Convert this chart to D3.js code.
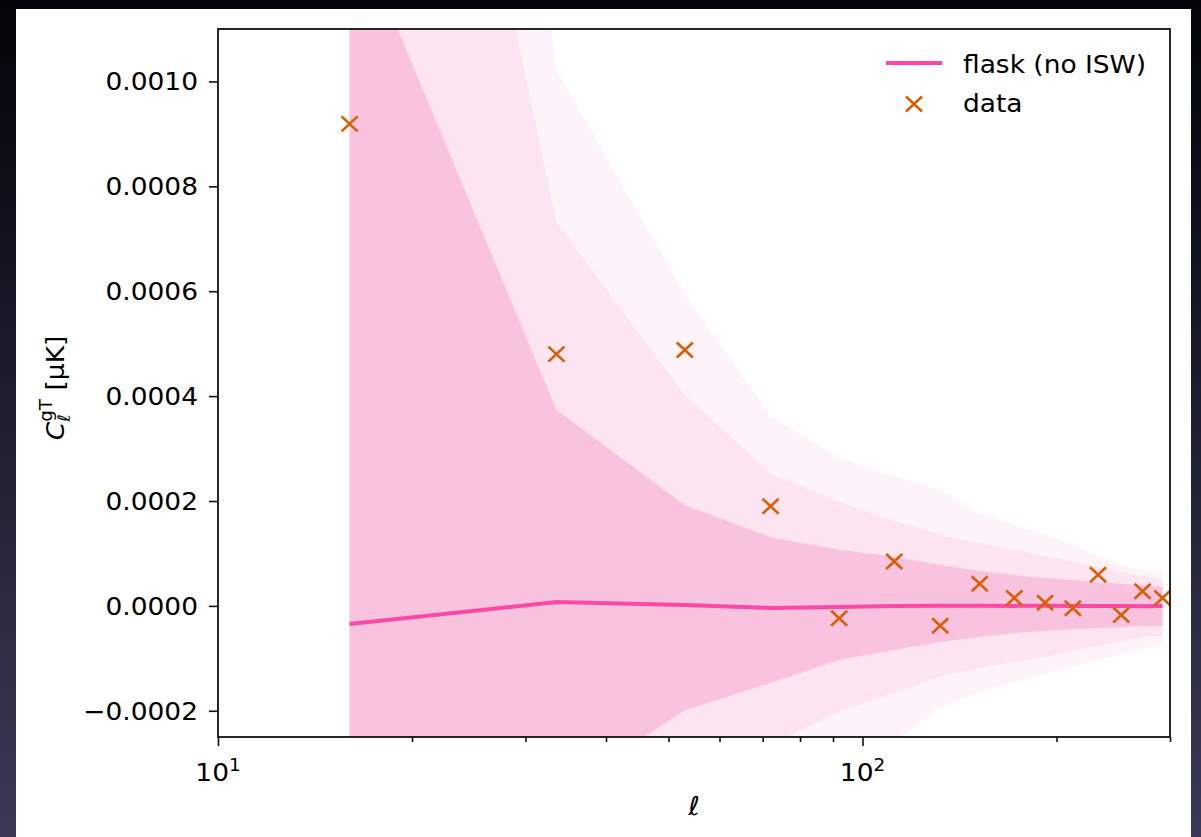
<!DOCTYPE html>
<html lang="en">
<head>
  <meta charset="UTF-8">
  <title>flask (no ISW) vs data</title>
  <style>
    body { margin: 0; background: #000; }
    text { font-family: "DejaVu Sans", sans-serif; fill: #000; }
  </style>
</head>
<body>

<svg id="chart" width="1201" height="837"></svg>

<script src="https://d3js.org/d3.v7.min.js"></script>

<script>

    // multipole bin centres
    var ell = [16, 33.5, 53, 72, 92, 112, 132, 152, 172, 192, 212, 232, 252, 272, 292];

    // flask mean (no ISW)
    var flaskMean = [-0.0000345, 0.0000074, 0.0000017, -0.000004, -0.0000021, 0, 0.0000005,
                     0.0000005, 0, 0.0000005, 0, 0, 0, -0.0000005, 0];

    // measured cross-spectrum
    var dataCl = [0.000919, 0.000480, 0.000488, 0.000190, -0.0000236, 0.0000847, -0.0000378,
                  0.0000421, 0.0000151, 0.0000061, -0.0000046, 0.0000595, -0.0000174, 0.0000278, 0.0000151];

    // scatter bands of the flask realisations
    var band1Hi = [0.00132, 0.000374, 0.000192, 0.000131, 0.000107, 0.0000932, 0.0000780, 0.0000665,
                   0.0000589, 0.0000532, 0.0000494, 0.0000456, 0.0000418, 0.0000399, 0.0000360];
    var band1Lo = [-0.00140, -0.000359, -0.000199, -0.000147, -0.000103, -0.0000841, -0.0000688, -0.0000593,
                   -0.0000517, -0.0000479, -0.0000440, -0.0000421, -0.0000402, -0.0000383, -0.0000383];
    var band2Hi = [0.00259, 0.000732, 0.000402, 0.000253, 0.000198, 0.000162, 0.000135, 0.000120,
                   0.000107, 0.0000952, 0.0000837, 0.0000742, 0.0000646, 0.0000570, 0.0000494];
    var band2Lo = [-0.00270, -0.000725, -0.000399, -0.000265, -0.000202, -0.000166, -0.000134, -0.000118,
                   -0.000107, -0.0000975, -0.0000860, -0.0000765, -0.0000669, -0.0000593, -0.0000574];
    var band3Hi = [0.00429, 0.001022, 0.000595, 0.000362, 0.000282, 0.000248, 0.000221, 0.000177,
                   0.000154, 0.000135, 0.000116, 0.0000952, 0.0000780, 0.0000685, 0.0000646];
    var band3Lo = [-0.00440, -0.00100, -0.000592, -0.000370, -0.000309, -0.000259, -0.000193, -0.000164,
                   -0.000145, -0.000130, -0.000116, -0.000103, -0.0000917, -0.0000822, -0.0000746];

    var yTicks = [-0.0002, 0, 0.0002, 0.0004, 0.0006, 0.0008, 0.0010];
    var xMajor = [10, 100];
    var xMinor = [20, 30, 40, 50, 60, 70, 80, 90, 200, 300];
    var legendLabels = ["flask (no ISW)", "data"];

    var svg = d3.select("#chart"),
        width = +svg.attr("width"),
        height = +svg.attr("height"),
        pLeft = 218, pRight = 1170, pTop = 29, pBottom = 737,
        sx = 1.08,   // text in the picture is a little wide
        fs = 24.5,
        lineColor = "#ff48a5",
        dataColor = "#d95f02";

    var x = d3.scaleLog().domain([10, 300]).range([pLeft, pRight]),
        y = d3.scaleLinear().domain([-0.00025, 0.0011]).range([pBottom, pTop]);

    // backdrop
    var defs = svg.append("defs");
    var grad = defs.append("linearGradient").attr("id", "bg")
        .attr("x1", 0).attr("y1", 0).attr("x2", 0).attr("y2", 1);
    grad.append("stop").attr("offset", "0%").attr("stop-color", "#030309");
    grad.append("stop").attr("offset", "100%").attr("stop-color", "#3b3a56");
    svg.append("rect").attr("width", width).attr("height", height).attr("fill", "url(#bg)");
    svg.append("rect").attr("x", 16).attr("y", 9).attr("width", 1175).attr("height", height - 9)
        .attr("fill", "#fff");

    defs.append("clipPath").attr("id", "plot")
      .append("rect").attr("x", pLeft).attr("y", pTop)
        .attr("width", pRight - pLeft).attr("height", pBottom - pTop);

    var plot = svg.append("g").attr("clip-path", "url(#plot)");

    var bands = [
      {lo: band3Lo, hi: band3Hi, color: "#fef3f8"},
      {lo: band2Lo, hi: band2Hi, color: "#fce4f0"},
      {lo: band1Lo, hi: band1Hi, color: "#f9c3df"}
    ];

    bands.forEach(function (b) {
      var area = d3.area()
          .x(function (d, i) { return x(ell[i]); })
          .y0(function (d, i) { return y(b.lo[i]); })
          .y1(function (d, i) { return y(b.hi[i]); });
      plot.append("path").datum(ell).attr("d", area).attr("fill", b.color);
    });

    var line = d3.line()
        .x(function (d, i) { return x(ell[i]); })
        .y(function (d) { return y(d); });
    plot.append("path").datum(flaskMean).attr("d", line)
        .attr("fill", "none").attr("stroke", lineColor).attr("stroke-width", 4);

    var cross = "M-8,-7.5L8,7.5M-8,7.5L8,-7.5";
    svg.append("g").selectAll("path").data(dataCl).enter().append("path")
        .attr("transform", function (d, i) { return "translate(" + x(ell[i]) + "," + y(d) + ")"; })
        .attr("d", cross).attr("stroke", dataColor).attr("stroke-width", 2.6).attr("fill", "none");

    // axes
    var gx = svg.append("g").attr("transform", "translate(0," + pBottom + ")")
        .call(d3.axisBottom(x).tickValues(xMajor).tickSize(9).tickFormat(""));
    var gxm = svg.append("g").attr("transform", "translate(0," + pBottom + ")")
        .call(d3.axisBottom(x).tickValues(xMinor).tickSize(5).tickFormat(""));
    var gy = svg.append("g").attr("transform", "translate(" + pLeft + ",0)")
        .call(d3.axisLeft(y).tickValues(yTicks).tickSize(9).tickFormat(""));
    [gx, gxm, gy].forEach(function (g) {
      g.select(".domain").remove();
      g.selectAll(".tick line").attr("stroke", "#111").attr("stroke-width", 1.6);
    });

    svg.append("rect").attr("x", pLeft).attr("y", pTop)
        .attr("width", pRight - pLeft).attr("height", pBottom - pTop)
        .attr("fill", "none").attr("stroke", "#111").attr("stroke-width", 1.8);

    function label(px, py, anchor) {
      return svg.append("g").attr("transform", "translate(" + px + "," + py + ") scale(" + sx + ",1)")
        .append("text").attr("text-anchor", anchor).style("font-size", fs + "px");
    }

    var fmt = d3.format(".4f");
    yTicks.forEach(function (t) {
      label(pLeft - 20, y(t) + 8.8, "end").text(fmt(t).replace("-", "\u2212"));
    });

    xMajor.forEach(function (t) {
      var tx = label(x(t), pBottom + 44, "middle");
      tx.append("tspan").text("10");
      tx.append("tspan").attr("dy", -10).style("font-size", "17px").text(Math.log10(t));
    });

    label((pLeft + pRight) / 2, 815, "middle").style("font-style", "italic").style("font-size", "26px").text("\u2113");

    var yl = svg.append("g").attr("transform", "translate(64,388) rotate(-90) scale(" + sx + ",1)")
      .append("text").attr("text-anchor", "middle").style("font-size", fs + "px");
    yl.append("tspan").style("font-style", "italic").text("C");
    yl.append("tspan").attr("dy", 6).style("font-size", "17px").style("font-style", "italic").text("\u2113");
    yl.append("tspan").attr("dx", -7).attr("dy", -18).style("font-size", "17px").text("gT");
    yl.append("tspan").attr("dy", 12).text(" [\u03bcK]");

    // legend
    svg.append("line").attr("x1", 886).attr("x2", 942).attr("y1", 63).attr("y2", 63)
        .attr("stroke", lineColor).attr("stroke-width", 4);
    svg.append("path").attr("transform", "translate(914,104)").attr("d", cross)
        .attr("stroke", dataColor).attr("stroke-width", 2.6).attr("fill", "none");
    label(963, 73, "start").text(legendLabels[0]);
    label(963, 112, "start").text(legendLabels[1]);

</script>

</body>
</html>
